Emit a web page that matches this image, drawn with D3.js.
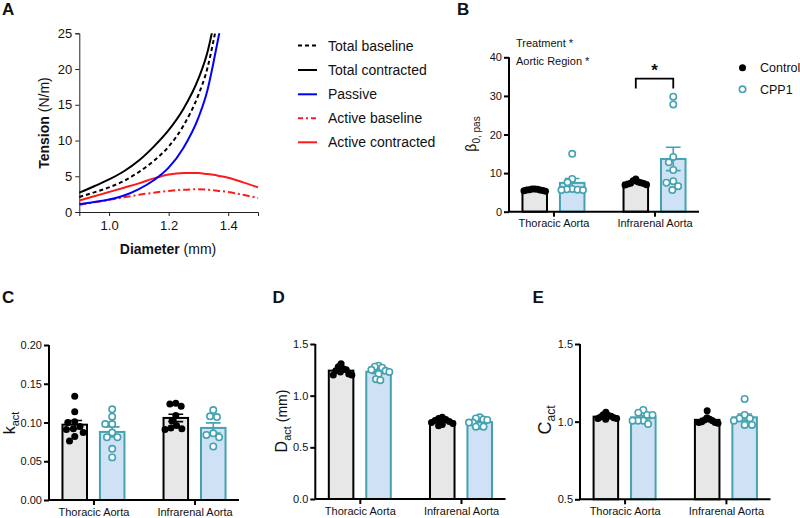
<!DOCTYPE html>
<html><head><meta charset="utf-8">
<script src="https://cdn.jsdelivr.net/npm/d3@7"></script>
<style>body{margin:0;background:#fff} svg{display:block} text{font-family:"Liberation Sans",Arial,sans-serif;fill:#111}</style>
</head><body><svg id="c" width="800" height="518"></svg>
<script>
// ---------- Panel A data ----------
const diameters        = [0.90,0.95,1.00,1.05,1.10,1.15,1.20,1.25,1.30,1.33,1.35,1.37,1.40,1.45,1.50];
const passive          = [1.1,1.4,1.75,2.3,3.2,4.45,6.2,9.0,13.2,17.0,20.8,25.0,32.0,null,null];
const activeBaseline   = [1.0,1.35,1.7,2.05,2.4,2.7,2.95,3.12,3.18,3.12,3.05,2.95,2.8,2.4,1.95];
const activeContracted = [1.6,2.2,2.8,3.4,4.0,4.7,5.25,5.47,5.45,5.3,5.2,5.05,4.8,4.15,3.45];
const totalBaseline    = [2.1,2.75,3.45,4.35,5.6,7.15,9.15,12.1,16.4,20.1,23.85,28.0,null,null,null];
const totalContracted  = [2.7,3.6,4.55,5.7,7.2,9.15,11.45,14.45,18.65,22.3,26.0,null,null,null,null];
const seriesNamesA = ["Total baseline","Total contracted","Passive","Active baseline","Active contracted"];
const tensionTicks = [0,5,10,15,20,25];
const diameterTicks = [1.0,1.2,1.4];

// ---------- Bar panels data ----------
const regions = ["Thoracic Aorta","Infrarenal Aorta"];
const groups = ["Control","CPP1"];
// B: beta0,pas
const betaControlThoracic   = [5.9,5.8,5.7,5.6,5.5,5.9,5.4,5.6,5.3];
const betaCPP1Thoracic      = [15.0,8.5,7.6,5.9,5.8,5.7,5.6,5.6];
const betaControlInfrarenal = [8.5,8.0,7.7,7.5,7.3,7.2,7.0,6.9,7.4];
const betaCPP1Infrarenal    = [29.8,27.8,14.2,12.8,10.8,7.9,7.5,6.6,5.6];
const betaTicks = [0,10,20,30,40];
// C: k_act
const kControlThoracic   = [0.134,0.114,0.101,0.100,0.095,0.092,0.091,0.087,0.082,0.076];
const kCPP1Thoracic      = [0.117,0.1075,0.098,0.098,0.087,0.081,0.081,0.066,0.055];
const kControlInfrarenal = [0.125,0.124,0.121,0.109,0.102,0.096,0.093,0.092,0.091];
const kCPP1Infrarenal    = [0.116,0.108,0.107,0.086,0.084,0.081,0.069];
const kTicks = [0,0.05,0.10,0.15,0.20];
// D: D_act
const dControlThoracic   = [1.31,1.28,1.26,1.25,1.24,1.23,1.21,1.20,1.20];
const dCPP1Thoracic      = [1.29,1.28,1.27,1.25,1.24,1.23,1.21,1.16,1.15];
const dControlInfrarenal = [0.79,0.78,0.77,0.76,0.75,0.74,0.73,0.72,0.71];
const dCPP1Infrarenal    = [0.79,0.78,0.77,0.765,0.74,0.74,0.71,0.70,0.70];
const dTicks = [0,0.5,1.0,1.5];
// E: C_act
const cControlThoracic   = [1.06,1.045,1.04,1.035,1.03,1.025,1.02,1.02,1.015];
const cCPP1Thoracic      = [1.075,1.058,1.043,1.043,1.006,1.006,1.006,0.985];
const cControlInfrarenal = [1.07,1.025,1.015,1.01,1.005,1.0,0.995,0.995,0.99];
const cCPP1Infrarenal    = [1.146,1.043,1.021,1.021,1.006,0.979,0.979];
const cTicks = [0.5,1.0,1.5];

const svg = d3.select("#c");
const FONT = '"Liberation Sans",Arial,sans-serif';
const TEAL = "#45a2b0", LBLUE = "#cfe2f5", LGRAY = "#e7e7e7";

// ---------- Panel A ----------
{
  const x = d3.scaleLinear().domain([0.9,1.5]).range([79.3,258]);
  const y = d3.scaleLinear().domain([0,25]).range([212,33.3]);
  const g = svg.append("g");
  g.append("defs").append("clipPath").attr("id","clipA")
    .append("rect").attr("x",79).attr("y",33.3).attr("width",180).attr("height",180);
  const ya = g.append("g").attr("transform","translate(79.3,0)")
    .call(d3.axisLeft(y).tickValues(tensionTicks).tickSize(4).tickPadding(3));
  const xa = g.append("g").attr("transform","translate(0,212)")
    .call(d3.axisBottom(x).tickValues(diameterTicks).tickFormat(d3.format(".1f")).tickSize(4).tickPadding(5));
  [ya,xa].forEach(a=>{a.selectAll("path,line").attr("stroke","#222").attr("stroke-width",1);
    a.selectAll("text").attr("font-size",13).attr("font-family",FONT).attr("fill","#222");});
  const styles = [
    {vals: totalBaseline, color:"#000", dash:"4,3"},
    {vals: totalContracted, color:"#000", dash:null},
    {vals: passive, color:"#0000ff", dash:null},
    {vals: activeBaseline, color:"#ff1a1a", dash:"7,3,2,3"},
    {vals: activeContracted, color:"#ff1a1a", dash:null}
  ];
  const line = d3.line().defined(d=>d[1]!=null).x(d=>x(d[0])).y(d=>y(d[1])).curve(d3.curveMonotoneX);
  const plot = g.append("g").attr("clip-path","url(#clipA)");
  [4,3,2,0,1].forEach(i=>{
    const s = styles[i];
    plot.append("path").datum(diameters.map((d,k)=>[d,s.vals[k]]))
      .attr("d",line).attr("fill","none").attr("stroke",s.color).attr("stroke-width",2)
      .attr("stroke-dasharray",s.dash);
  });
  const yl = g.append("text").attr("transform","translate(49,123) rotate(-90)").attr("text-anchor","middle").attr("font-size",14);
  yl.append("tspan").attr("font-weight","bold").text("Tension");
  yl.append("tspan").text(" (N/m)");
  const xl = g.append("text").attr("x",168).attr("y",254).attr("text-anchor","middle").attr("font-size",14);
  xl.append("tspan").attr("font-weight","bold").text("Diameter");
  xl.append("tspan").text(" (mm)");
  const ly = [45.5,70,94.3,118.3,142.3];
  seriesNamesA.forEach((n,i)=>{
    const s = styles[i];
    g.append("line").attr("x1",298).attr("x2",317).attr("y1",ly[i]).attr("y2",ly[i])
      .attr("stroke",s.color).attr("stroke-width",2).attr("stroke-dasharray",s.dash ? (i===0?"4,3":"5,3,2,3") : null);
    g.append("text").attr("x",328).attr("y",ly[i]+5).attr("font-size",14).text(n);
  });
}

// ---------- dodge helper (beeswarm, compressed to bar width) ----------
function dodge(vals, y, r, limit){
  const d = 2*r+0.4, placed=[];
  const order = vals.map((v,i)=>i).sort((a,b)=>vals[b]-vals[a]);
  order.forEach(i=>{
    const yi=y(vals[i]); const iv=[];
    placed.forEach(p=>{const dy=Math.abs(p.y-yi); if(dy<d){const w=Math.sqrt(d*d-dy*dy); iv.push([p.x-w,p.x+w]);}});
    const c=[0]; iv.forEach(([a,b])=>c.push(a,b));
    c.sort((a,b)=>Math.abs(a)-Math.abs(b));
    const xx=c.find(v=>iv.every(([a,b])=>v<=a+1e-6||v>=b-1e-6));
    placed.push({x:xx,y:yi});
  });
  const mx = d3.max(placed,p=>Math.abs(p.x));
  if (mx>limit) placed.forEach(p=>p.x*=limit/mx);
  return placed;
}

function barPanel(cfg){
  const g = svg.append("g");
  const y = d3.scaleLinear().domain(cfg.domain).range([cfg.yBot,cfg.yTop]);
  const xc = d3.scalePoint().domain(regions).range([cfg.x0,cfg.x1]).padding(0.44);
  const xs = d3.scaleBand().domain(groups).range([-31,31]).paddingInner(0.345);
  const bw = xs.bandwidth();
  regions.forEach((reg,ri)=>{
    groups.forEach((grp,gi)=>{
      const vals = cfg.data[ri][gi];
      const m = d3.mean(vals), sem = d3.deviation(vals)/Math.sqrt(vals.length);
      const cx = xc(reg)+xs(grp)+bw/2;
      const stroke = gi===0?"#000":TEAL;
      g.append("rect").attr("x",cx-bw/2).attr("y",y(m)).attr("width",bw).attr("height",cfg.yBot-y(m))
        .attr("fill",gi===0?LGRAY:LBLUE).attr("stroke",stroke).attr("stroke-width",2);
      const cw = bw*0.3;
      g.append("path").attr("d",`M${cx},${y(m-sem)}V${y(m+sem)}M${cx-cw},${y(m+sem)}H${cx+cw}M${cx-cw},${y(m-sem)}H${cx+cw}`)
        .attr("stroke",stroke).attr("stroke-width",1.6).attr("fill","none");
      dodge(vals,y,3.3,bw/2-1.5).forEach(p=>{
        g.append("circle").attr("cx",cx+p.x).attr("cy",p.y).attr("r",gi===0?3.5:3.2)
          .attr("fill",gi===0?"#000":"#fff").attr("stroke",gi===0?"none":TEAL).attr("stroke-width",1.6);
      });
    });
  });
  const ya = g.append("g").attr("transform",`translate(${cfg.x0},0)`)
    .call(d3.axisLeft(y).tickValues(cfg.ticks).tickFormat(d3.format(cfg.fmt)).tickSize(5).tickPadding(2));
  const xa = g.append("g").attr("transform",`translate(0,${cfg.yBot})`)
    .call(d3.axisBottom(xc).tickSize(5).tickPadding(3));
  xa.select(".domain").attr("d",`M${cfg.x0},0H${cfg.x1}`);
  [ya,xa].forEach(a=>{a.selectAll("path,line").attr("stroke","#000").attr("stroke-width",2);
    a.selectAll("text").attr("font-size",11).attr("font-family",FONT).attr("fill","#111");});
  ya.select(".domain").attr("d",`M0,${cfg.yBot}V${cfg.yTop}`);
  return {g,y,xc,xs};
}

// B
const pB = barPanel({x0:509,x1:699,yTop:57.3,yBot:211.7,domain:[0,40],ticks:betaTicks,fmt:"d",
  data:[[betaControlThoracic,betaCPP1Thoracic],[betaControlInfrarenal,betaCPP1Infrarenal]]});
{
  const g = pB.g;
  const xa = pB.xc("Infrarenal Aorta");
  const x1 = xa+pB.xs("Control")+pB.xs.bandwidth()/2, x2 = xa+pB.xs("CPP1")+pB.xs.bandwidth()/2;
  g.append("path").attr("d",`M${x1},88.5V78.7H${x2}V88.5`).attr("stroke","#000").attr("stroke-width",1.8).attr("fill","none");
  g.append("text").attr("x",(x1+x2)/2).attr("y",76).attr("text-anchor","middle").attr("font-size",17).attr("font-weight","bold").text("*");
  g.append("text").attr("x",516).attr("y",47).attr("font-size",11).text("Treatment *");
  g.append("text").attr("x",516).attr("y",64.5).attr("font-size",11).text("Aortic Region *");
  const lt = g.append("text").attr("transform","translate(476,134) rotate(-90)").attr("text-anchor","middle").attr("font-size",14);
  lt.append("tspan").text("β");
  lt.append("tspan").attr("dy",4).attr("font-size",10).text("0, pas");
  g.append("circle").attr("cx",742.5).attr("cy",67.7).attr("r",3.5).attr("fill","#000");
  g.append("text").attr("x",760).attr("y",72).attr("font-size",12.5).text("Control");
  g.append("circle").attr("cx",742.5).attr("cy",89.3).attr("r",3.2).attr("fill","#fff").attr("stroke",TEAL).attr("stroke-width",1.6);
  g.append("text").attr("x",760).attr("y",93.5).attr("font-size",12.5).text("CPP1");
}
// C
const pC = barPanel({x0:49,x1:239,yTop:345,yBot:500,domain:[0,0.2],ticks:kTicks,fmt:".2f",
  data:[[kControlThoracic,kCPP1Thoracic],[kControlInfrarenal,kCPP1Infrarenal]]});
{
  const t = pC.g.append("text").attr("transform","translate(15,423) rotate(-90)").attr("text-anchor","middle").attr("font-size",16);
  t.append("tspan").text("k");
  t.append("tspan").attr("dy",4).attr("font-size",11).text("act");
}
// D
const pD = barPanel({x0:315.3,x1:505.5,yTop:344,yBot:499,domain:[0,1.5],ticks:dTicks,fmt:".1f",
  data:[[dControlThoracic,dCPP1Thoracic],[dControlInfrarenal,dCPP1Infrarenal]]});
{
  const t = pD.g.append("text").attr("transform","translate(287,421) rotate(-90)").attr("text-anchor","middle").attr("font-size",16);
  t.append("tspan").text("D");
  t.append("tspan").attr("dy",4).attr("font-size",11).text("act");
  t.append("tspan").attr("dy",-4).attr("font-size",14).text(" (mm)");
}
// E
const pE = barPanel({x0:580,x1:770.5,yTop:344,yBot:499.3,domain:[0.5,1.5],ticks:cTicks,fmt:".1f",
  data:[[cControlThoracic,cCPP1Thoracic],[cControlInfrarenal,cCPP1Infrarenal]]});
{
  const t = pE.g.append("text").attr("transform","translate(551,420) rotate(-90)").attr("text-anchor","middle").attr("font-size",18);
  t.append("tspan").text("C");
  t.append("tspan").attr("dy",4).attr("font-size",12).text("act");
}
[["A",2,15],["B",457,15],["C",2,303],["D",272.5,303],["E",532.5,303]].forEach(([l,x,y])=>{
  svg.append("text").attr("x",x).attr("y",y).attr("font-size",17).attr("font-weight","bold").text(l);
});
</script></body></html>
